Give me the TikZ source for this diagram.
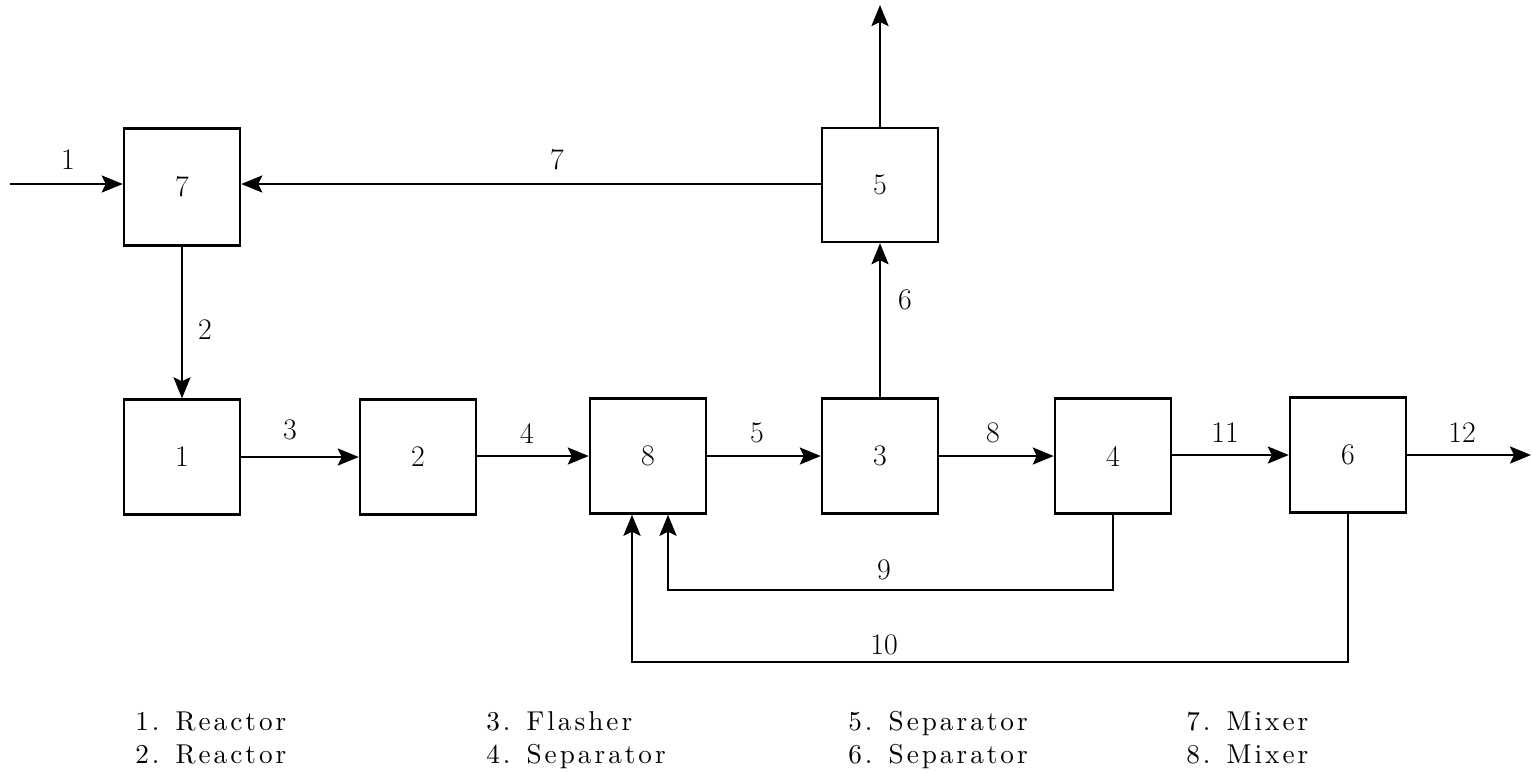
\documentclass[tikz,border=0pt]{standalone}
\usepackage{fontspec}
\newfontfamily\legendfont{lmroman10-regular.otf}[LetterSpace=11]
\usetikzlibrary{arrows.meta}
\begin{document}
\begin{tikzpicture}[x=0.02cm, y=-0.02cm,
  unit/.style={draw, line width=1.4pt, minimum width=2.32cm, minimum height=2.3cm, inner sep=0pt, font=\fontsize{17}{20}\selectfont},
  flow/.style={line width=1.5pt, -{Stealth[length=0.42cm, width=0.34cm, inset=0.08cm]}},
  lab/.style={font=\fontsize{17}{20}\selectfont, inner sep=0pt},
  legend/.style={font=\legendfont\fontsize{15.5}{18}\selectfont, anchor=base west, inner sep=0pt}]
\useasboundingbox (0,0) rectangle (1533,772);
% units
\node[unit, minimum height=2.34cm] (b7) at (182,187) {7};
\node[unit, minimum height=2.28cm] (b5) at (880,185) {5};
\node[unit] (b1) at (182,457) {1};
\node[unit] (b2) at (418,457) {2};
\node[unit] (b8) at (648,456) {8};
\node[unit] (b3) at (880,456) {3};
\node[unit] (b4) at (1113,456) {4};
\node[unit] (b6) at (1348,455) {6};
% free ends
\coordinate (in1) at (10,184);
\coordinate (out5) at (880,5);
\coordinate (out12) at (1531,455);
\coordinate (r9) at (668,590);
\coordinate (r10) at (632,662);
% connectors
\draw[flow] (in1) -- (b7.west |- in1);
\draw[flow] (b5.west |- in1) -- (b7.east |- in1);
\draw[flow] (b7.south) -- (b1.north);
\draw[flow] (b1.east) -- (b2.west);
\draw[flow] (b2.east |- b8.west) -- (b8.west);
\draw[flow] (b8.east) -- (b3.west);
\draw[flow] (b3.east) -- (b4.west);
\draw[flow] (b4.east |- b6.west) -- (b6.west);
\draw[flow] (b6.east) -- (out12);
\draw[flow] (b3.north) -- (b5.south);
\draw[flow] (b5.north) -- (out5);
\draw[flow] (b4.south) |- (r9) -- (r9 |- b8.south);
\draw[flow] (b6.south) |- (r10) -- (r10 |- b8.south);
% stream labels
\node[lab] (s1) at (68,160) {1};
\node[lab] (s7) at (557,160) {7};
\node[lab] (s2) at (205,330) {2};
\node[lab] (s3) at (290,430) {3};
\node[lab] (s4) at (527,433) {4};
\node[lab] (s5) at (757,433) {5};
\node[lab] (s8) at (993,433) {8};
\node[lab] (s11) at (1225,433) {11};
\node[lab] (s12) at (1462,433) {12};
\node[lab] (s6) at (905,300) {6};
\node[lab] (s9) at (884,570) {9};
\node[lab] (s10) at (884,645) {10};
% legend
\node[legend] (l1) at (135,730) {1. Reactor};
\node[legend] (l2) at (135,763) {2. Reactor};
\node[legend] (l3) at (486,730) {3. Flasher};
\node[legend] (l4) at (486,763) {4. Separator};
\node[legend] (l5) at (848,730) {5. Separator};
\node[legend] (l6) at (848,763) {6. Separator};
\node[legend] (l7) at (1186,730) {7. Mixer};
\node[legend] (l8) at (1186,763) {8. Mixer};
\end{tikzpicture}
\end{document}
